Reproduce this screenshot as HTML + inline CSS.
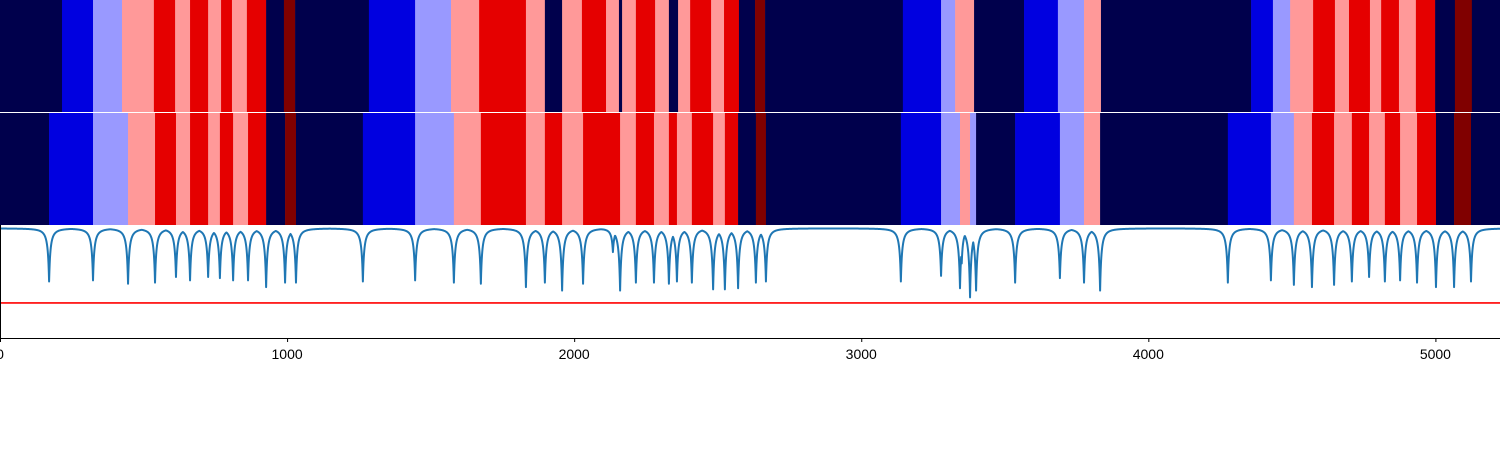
<!DOCTYPE html>
<html><head><meta charset="utf-8"><style>
html,body{margin:0;padding:0;background:#fff;width:1500px;height:450px;overflow:hidden}
svg{display:block;font-family:"Liberation Sans",sans-serif}
</style></head><body>
<svg id="chart" width="1500" height="450" xmlns="http://www.w3.org/2000/svg">
<g id="bands-top"></g>
<g id="bands-bottom"></g>
<g id="lineplot"></g>
<g id="axis"></g>
</svg>
<script>
const xMax = 5225;
const levelColors = ["#00004c","#0000e0","#9999ff","#ff9999","#e50000","#800000"];
const topEnds = [216,324,425,536,610,662,725,770,808,860,927,989,1028,1285,1446,1571,1669,1832,1898,1958,2027,2111,2156,2167,2215,2282,2330,2362,2404,2477,2522,2574,2630,2665,3145,3278,3327,3393,3567,3685,3776,3835,4358,4434,4494,4574,4650,4699,4772,4811,4873,4932,4999,5068,5127,5225];
const topLevels = [0,1,2,3,4,3,4,3,4,3,4,0,5,0,1,2,3,4,3,0,3,4,3,0,3,4,3,0,3,4,3,4,0,5,0,1,2,3,0,1,2,3,0,1,2,3,4,3,4,3,4,3,4,0,5,0];
const bottomEnds = [171,324,446,540,613,662,725,766,812,864,927,993,1031,1264,1446,1581,1675,1832,1898,1958,2031,2160,2215,2278,2330,2358,2410,2484,2525,2571,2633,2668,3138,3278,3344,3379,3400,3536,3692,3776,3832,4277,4427,4507,4570,4647,4709,4769,4824,4877,4936,5002,5065,5124,5225];
const bottomLevels = [0,1,2,3,4,3,4,3,4,3,4,0,5,0,1,2,3,4,3,4,3,4,3,4,3,4,3,4,3,4,0,5,0,1,2,3,2,0,1,2,3,0,1,2,3,4,3,4,3,4,3,4,0,5,0];
const dipX = [171,324,446,540,613,662,725,766,812,864,927,993,1031,1264,1446,1581,1675,1832,1898,1958,2031,2135,2160,2215,2278,2330,2358,2410,2484,2525,2571,2633,2668,3138,3278,3344,3350,3379,3400,3536,3692,3776,3832,4277,4427,4507,4570,4647,4709,4769,4824,4877,4936,5002,5065,5124];
const dipVal = [0.50,0.51,0.48,0.49,0.54,0.51,0.54,0.53,0.51,0.51,0.45,0.49,0.49,0.50,0.51,0.49,0.48,0.45,0.49,0.42,0.48,0.76,0.42,0.49,0.49,0.48,0.50,0.49,0.43,0.43,0.44,0.49,0.50,0.50,0.55,0.44,0.66,0.36,0.42,0.49,0.53,0.49,0.42,0.49,0.51,0.47,0.45,0.47,0.50,0.54,0.50,0.51,0.49,0.45,0.45,0.50];
const baseline = 0.97;
const threshold = 0.31;
const xTicks = [0,1000,2000,3000,4000,5000];

const NS = "http://www.w3.org/2000/svg";
const X = v => v / xMax * 1500;
const plotTop = 225, plotBot = 338;
const Y = v => plotBot - v * (plotBot - plotTop);
function mk(tag, attrs, parent){const e=document.createElementNS(NS,tag);for(const k in attrs)e.setAttribute(k,attrs[k]);parent.appendChild(e);return e;}

function drawBands(g, ends, levels, y0, h, prefix){
  let start = 0;
  ends.forEach((end,i)=>{
    const r = mk('rect',{x:X(start),y:y0,width:Math.max(0,X(end)-X(start))+0.3,height:h,fill:levelColors[levels[i]]},g);
    
    
    start = end;
  });
}
drawBands(document.getElementById('bands-top'), topEnds, topLevels, 0, 112, 'top');
drawBands(document.getElementById('bands-bottom'), bottomEnds, bottomLevels, 113, 112, 'bottom');

const lp = document.getElementById('lineplot');
const thr = mk('line',{x1:0,x2:1500,y1:Y(threshold),y2:Y(threshold),stroke:'#ff0000','stroke-width':1.6},lp);


let pts = [];
for(let x=0;x<=xMax;x+=1){
  let drop = 0;
  for(let i=0;i<dipX.length;i++){
    const d = baseline - dipVal[i];
    const w = 9;
    const c = d * Math.pow(w/(Math.abs(x-dipX[i])+w),2);
    if(c>drop) drop=c;
  }
  pts.push(X(x).toFixed(2)+','+Y(baseline-drop).toFixed(2));
}
const line = mk('polyline',{points:pts.join(' '),fill:'none',stroke:'#1f77b4','stroke-width':2,'stroke-linejoin':'round'},lp);



const ax = document.getElementById('axis');
const sp1 = mk('line',{x1:0.5,x2:0.5,y1:plotTop,y2:plotBot,stroke:'#000','stroke-width':1},ax);


const sp2 = mk('line',{x1:0,x2:1500,y1:plotBot+0.5,y2:plotBot+0.5,stroke:'#000','stroke-width':1},ax);


xTicks.forEach(t=>{
  const tk = mk('line',{x1:X(t)+0.5,x2:X(t)+0.5,y1:plotBot,y2:plotBot+4,stroke:'#000','stroke-width':1},ax);
  
  
  const tx = mk('text',{x:X(t),y:plotBot+21,'font-size':14,'text-anchor':'middle',fill:'#000'},ax);
  tx.textContent = t;
  
  
});
</script>
</body></html>
